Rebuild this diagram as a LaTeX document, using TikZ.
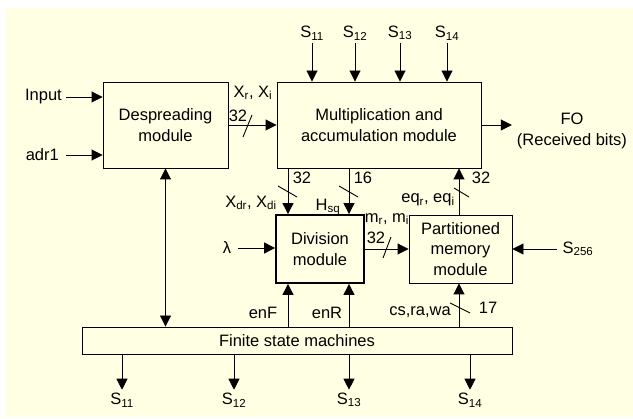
\documentclass[tikz,border=0pt]{standalone}
\usepackage{fontspec}
\setmainfont{Liberation Sans}
\usepackage{tikz}
\usetikzlibrary{arrows.meta, positioning, calc}
\definecolor{paleyellow}{HTML}{FFFFE3}
\tikzset{
    box/.style={rectangle, draw=black, line width=0.9pt, fill=paleyellow, inner sep=0pt, align=center},
    thickbox/.style={box, line width=1.8pt},
    lbl/.style={inner sep=0pt, align=center},
    arrow/.style={-{Triangle[length=11pt,width=11pt]}, line width=0.9pt},
    dblarrow/.style={{Triangle[length=11pt,width=11pt]}-{Triangle[length=11pt,width=11pt]}, line width=0.9pt},
    busmark/.style={line width=0.9pt}
}

\begin{document}
\begin{tikzpicture}[x=1pt, y=-1pt, font=\fontsize{16.5}{20.5}\selectfont]
    \useasboundingbox (0,0) rectangle (633,419);
    \fill[paleyellow] (6,8) rectangle (633,417);
    % blocks
    \node[box, minimum width=125, minimum height=86] (desp) at (165.5,125) {Despreading\\module};
    \node[box, minimum width=204, minimum height=86] (mac) at (379,125) {Multiplication and\\accumulation module};
    \node[thickbox, minimum width=88, minimum height=68] (div) at (320,249) {Division\\module};
    \node[box, minimum width=103, minimum height=68] (pmem) at (460.5,249) {Partitioned\\memory\\module};
    \node[box, minimum width=430, minimum height=27] (fsm) at (297,340.5) {Finite state machines};
    % inputs
    \node[lbl, anchor=east] (input) at (62,97) {Input};
    \node[lbl, anchor=east] (adr) at (59,155) {adr1};
    \draw[arrow, shorten <=4pt] (input.east) -- (input.east -| desp.west);
    \draw[arrow, shorten <=7pt] (adr.east) -- (adr.east -| desp.west);
    \draw[dblarrow] (desp.south) -- (desp.south |- fsm.north);
    % despreading to mac
    \draw[arrow] (desp.east) -- (mac.west);
    \draw[busmark] (243,137) -- (252,115);
    \node[lbl] (w1) at (238,116) {32};
    \node[lbl] (xri) at (253,93) {X\textsubscript{r}, X\textsubscript{i}};
    % control inputs of mac
    \foreach \x/\idx in {312/11, 355/12, 400/13, 447/14} {
        \node[lbl] (top\idx) at (\x,33) {S\textsubscript{\idx}};
        \draw[arrow, shorten <=3pt] (top\idx.south) -- (top\idx.south |- mac.north);
    }
    % output
    \node[lbl] (fo) at (572,131) {FO\\(Received bits)};
    \draw[arrow, shorten >=5pt] (mac.east) -- (mac.east -| fo.west);
    % buses between mac, division and memory
    \coordinate (xa) at (288,0);
    \coordinate (xb) at (349,0);
    \coordinate (xc) at (459,0);
    \draw[arrow] (mac.south -| xa) -- (div.north -| xa);
    \draw[arrow] (mac.south -| xb) -- (div.north -| xb);
    \draw[arrow] (pmem.north -| xc) -- (mac.south -| xc);
    \draw[busmark] (278,186) -- (297,197);
    \draw[busmark] (339,186) -- (358,197);
    \draw[busmark] (454,188) -- (469,197);
    \node[lbl] (w2) at (302,178) {32};
    \node[lbl] (w3) at (363,178) {16};
    \node[lbl] (w4) at (481,178) {32};
    \node[lbl] (xd) at (251,203) {X\textsubscript{dr}, X\textsubscript{di}};
    \node[lbl] (hsq) at (328,207) {H\textsubscript{sq}};
    \node[lbl] (eq) at (428,200) {eq\textsubscript{r}, eq\textsubscript{i}};
    % division to memory
    \draw[arrow] (div.east) -- (pmem.west);
    \draw[busmark] (383,258) -- (391,237);
    \node[lbl] (w5) at (376,238) {32};
    \node[lbl] (mri) at (387,219) {m\textsubscript{r}, m\textsubscript{i}};
    \node[lbl] (lam) at (227,248) {λ};
    \draw[arrow, shorten <=7pt] (lam.east) -- (lam.east -| div.west);
    \node[lbl] (s256) at (578,249) {S\textsubscript{256}};
    \draw[arrow, shorten <=5pt] (s256.west) -- (s256.west -| pmem.east);
    % control from fsm
    \draw[arrow] (fsm.north -| xa) -- (div.south -| xa);
    \draw[arrow] (fsm.north -| xb) -- (div.south -| xb);
    \draw[arrow] (fsm.north -| xc) -- (pmem.south -| xc);
    \draw[busmark] (450,303) -- (470,313);
    \node[lbl] (enf) at (263,313) {enF};
    \node[lbl] (enr) at (327,313) {enR};
    \node[lbl] (csrawa) at (420,312) {cs,ra,wa};
    \node[lbl] (w6) at (488,308) {17};
    \foreach \x/\idx in {122/11, 234/12, 349/13, 470/14} {
        \node[lbl] (bot\idx) at (\x,400) {S\textsubscript{\idx}};
        \draw[arrow, shorten >=3pt] (fsm.south -| bot\idx) -- (bot\idx.north);
    }
\end{tikzpicture}
\end{document}
